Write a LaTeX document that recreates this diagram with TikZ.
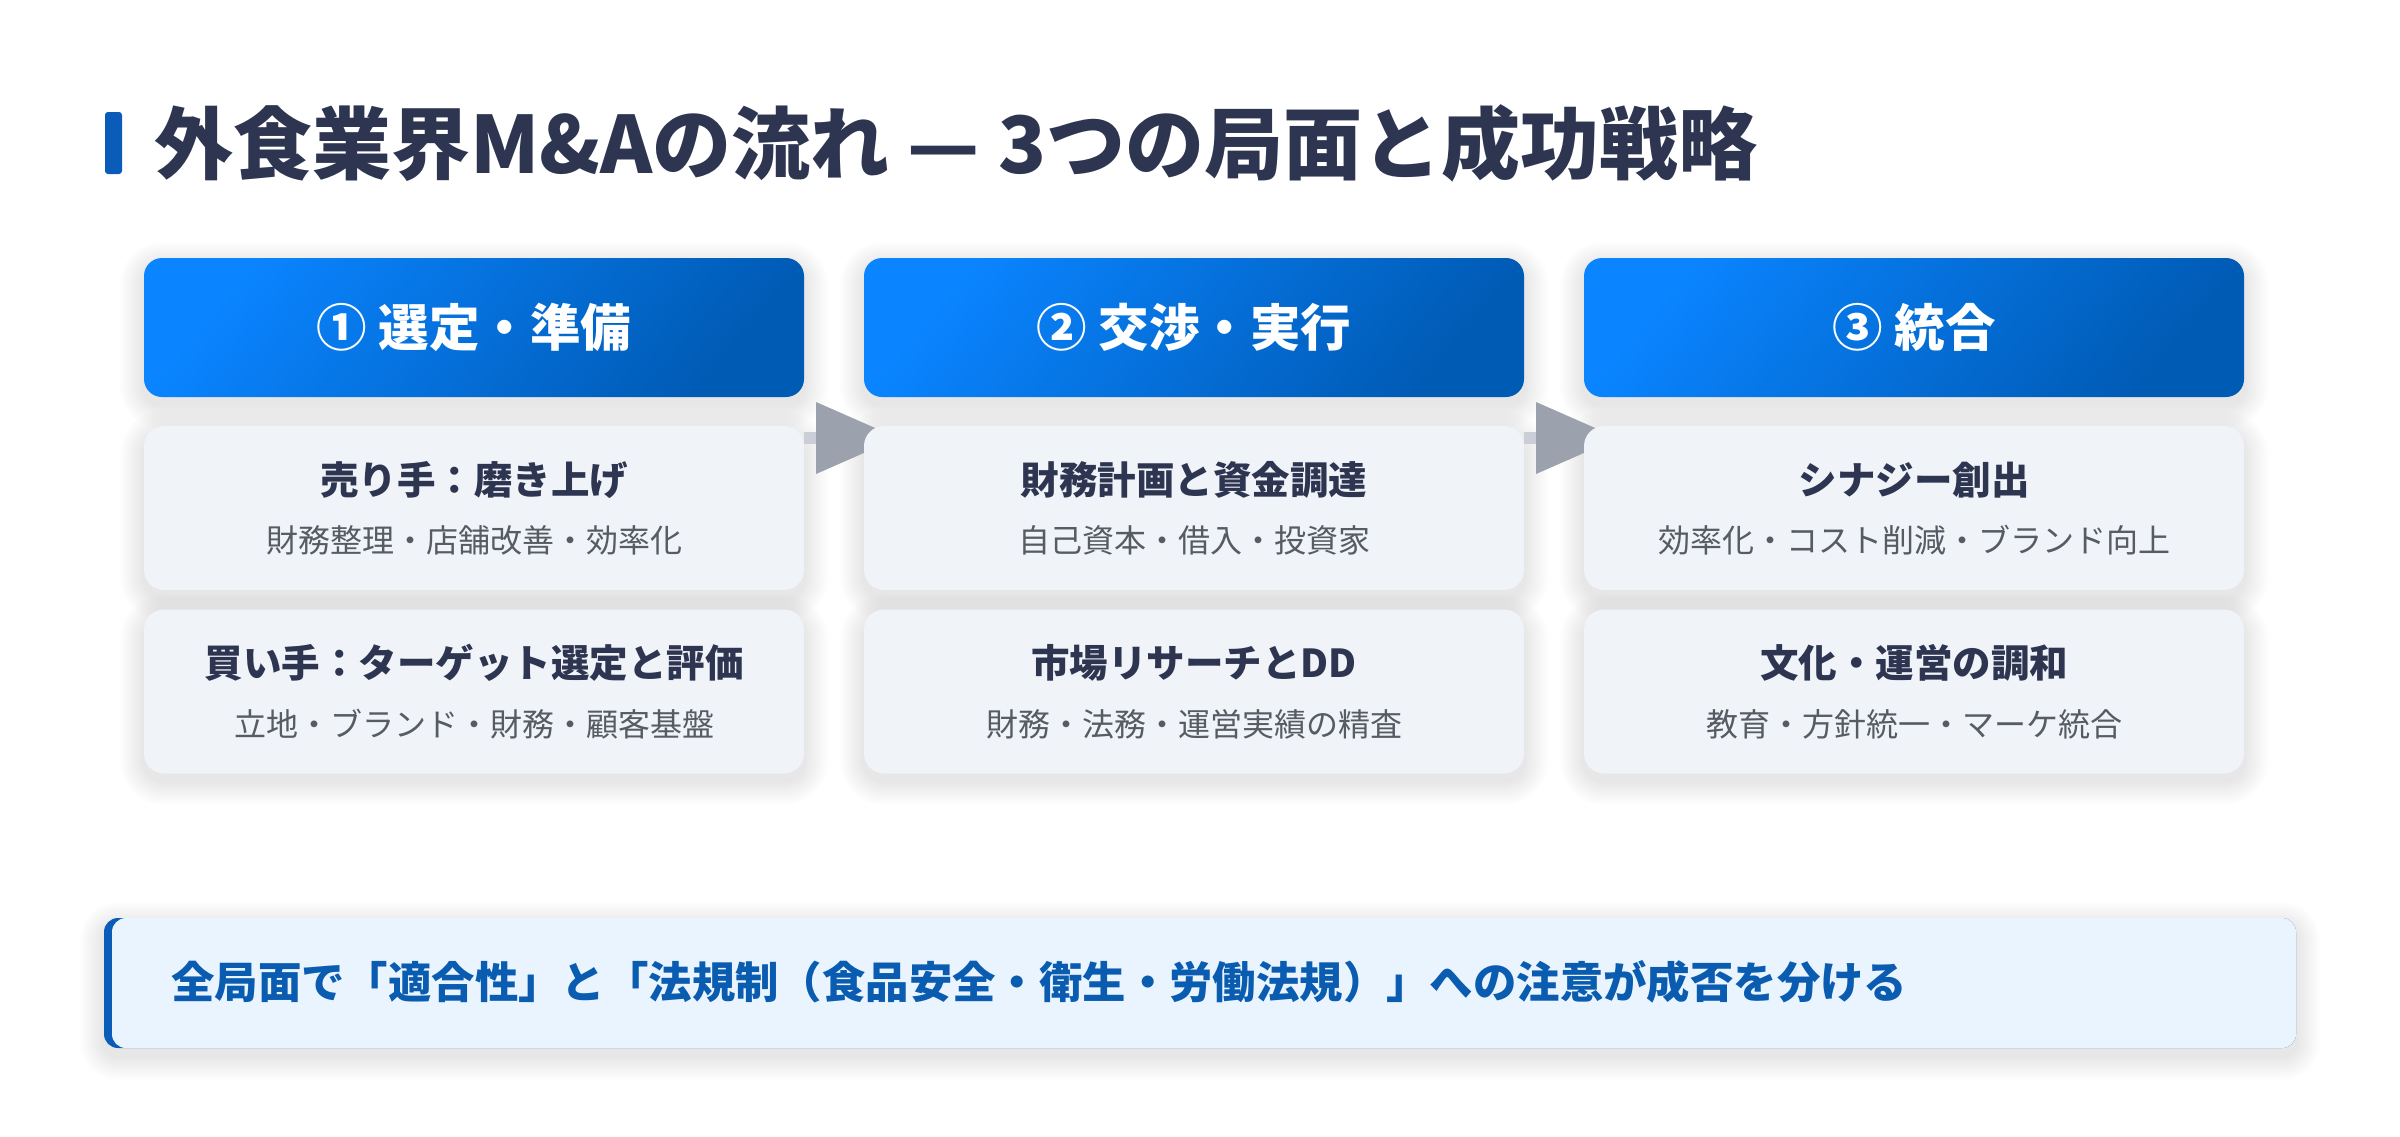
\documentclass[tikz,border=0pt]{standalone}
\usepackage{fontspec}
\setmainfont{Noto Sans CJK JP}
\definecolor{titlec}{HTML}{2D3551}
\definecolor{barc}{HTML}{0A5CB8}
\definecolor{hA}{HTML}{0A84FF}
\definecolor{hB}{HTML}{005BB5}
\definecolor{cardc}{HTML}{F0F3F7}
\definecolor{subc}{HTML}{565B64}
\definecolor{arrc}{HTML}{9BA1AD}
\definecolor{stubc}{HTML}{C9CED9}
\definecolor{notec}{HTML}{EAF4FE}
\definecolor{notet}{HTML}{0A5CB0}
\pgfdeclarehorizontalshading{hdrshade}{100bp}{color(0bp)=(hA); color(25bp)=(hA); color(75bp)=(hB); color(100bp)=(hB)}
% soft shadow: x1 y1 x2 y2 radius
\newcommand\mysoftshadow[5]{%
  \foreach \i in {1,...,12}{%
    \pgfmathsetmacro\rr{#5+2*\i}%
    \fill[black, fill opacity=0.008, rounded corners=\rr pt] ({#1-2*\i},{#2-2*\i+8}) rectangle ({#3+2*\i},{#4+2*\i+8});
  }}
\tikzset{
  hdr/.style={rounded corners=18pt, shading=hdrshade, shading angle=-40, minimum width=660pt, minimum height=139pt, inner sep=0pt, outer sep=0pt},
  hdrtext/.style={text=white, font=\bfseries\fontsize{50.5}{50.5}\selectfont, inner sep=0pt},
  card/.style={rounded corners=20pt, fill=cardc, minimum width=660pt, minimum height=164pt, inner sep=0pt, outer sep=0pt},
  cardtitle/.style={text=titlec, font=\bfseries\fontsize{38.5}{38.5}\selectfont, inner sep=0pt},
  cardsub/.style={text=subc, font=\fontsize{32}{32}\selectfont, inner sep=0pt},
}
\begin{document}
\begin{tikzpicture}[x=1pt, y=-1pt]
\useasboundingbox[fill=white] (0,0) rectangle (2400,1136);
% shadows
\foreach \cx in {144,864,1584}{
  \mysoftshadow{\cx}{258}{\cx+660}{397}{18}
  \mysoftshadow{\cx}{426}{\cx+660}{590}{20}
  \mysoftshadow{\cx}{610}{\cx+660}{773}{20}
}
\mysoftshadow{104}{918}{2296}{1048}{14}
% title
\fill[barc, rounded corners=3pt] (105,112) rectangle (122,174);
\node[anchor=west, inner sep=0pt, text=titlec, font=\bfseries\fontsize{79}{79}\selectfont] (title) at (154,143) {外食業界M\&Aの流れ — 3つの局面と成功戦略};
% headers
\node[hdr] (h1) at (474,327.5) {};
\node[hdr] (h2) at (1194,327.5) {};
\node[hdr] (h3) at (1914,327.5) {};
\node[hdrtext] (h1t) at (h1.center) {① 選定・準備};
\node[hdrtext] (h2t) at (h2.center) {② 交渉・実行};
\node[hdrtext] (h3t) at (h3.center) {③ 統合};
% arrows (drawn below the cards)
\coordinate (a1) at (804,438);
\coordinate (a2) at (1524,438);
\foreach \a in {a1,a2}{
  \fill[stubc] ([yshift=6pt]\a) rectangle ([xshift=12pt,yshift=-6pt]\a);
  \fill[arrc] ([xshift=12pt,yshift=36pt]\a) -- ([xshift=12pt,yshift=-36pt]\a) -- ([xshift=94pt]\a) -- cycle;
}
% cards
\node[card] (c11) at (474,508) {};
\node[card] (c12) at (474,691.5) {};
\node[card] (c21) at (1194,508) {};
\node[card] (c22) at (1194,691.5) {};
\node[card] (c31) at (1914,508) {};
\node[card] (c32) at (1914,691.5) {};
% card texts
\node[cardtitle] (t11) at (474,480) {売り手：磨き上げ};
\node[cardsub] (s11) at (474,540) {財務整理・店舗改善・効率化};
\node[cardtitle] (t12) at (474,663) {買い手：ターゲット選定と評価};
\node[cardsub] (s12) at (474,724) {立地・ブランド・財務・顧客基盤};
\node[cardtitle] (t21) at (1194,480) {財務計画と資金調達};
\node[cardsub] (s21) at (1194,540) {自己資本・借入・投資家};
\node[cardtitle] (t22) at (1194,663) {市場リサーチとDD};
\node[cardsub] (s22) at (1194,724) {財務・法務・運営実績の精査};
\node[cardtitle] (t31) at (1914,480) {シナジー創出};
\node[cardsub] (s31) at (1914,540) {効率化・コスト削減・ブランド向上};
\node[cardtitle] (t32) at (1914,663) {文化・運営の調和};
\node[cardsub] (s32) at (1914,724) {教育・方針統一・マーケ統合};
% note
\node[rounded corners=14pt, fill=barc, minimum width=2192pt, minimum height=130pt, inner sep=0pt, outer sep=0pt] (note) at (1200,983) {};
\fill[notec, rounded corners=14pt] (112,918) rectangle (2296,1048);
\node[anchor=west, inner sep=0pt, text=notet, font=\bfseries\fontsize{43.4}{43.4}\selectfont] (notet) at (171,982) {全局面で「適合性」と「法規制（食品安全・衛生・労働法規）」への注意が成否を分ける};
\end{tikzpicture}
\end{document}
